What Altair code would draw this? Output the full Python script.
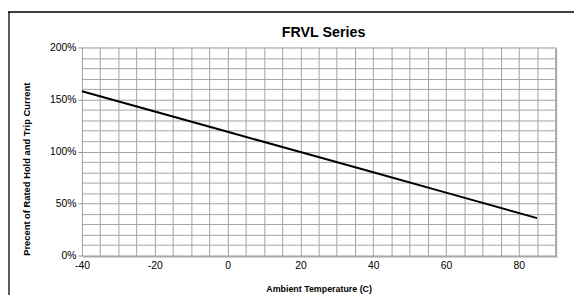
import altair as alt
import pandas as pd

# Data
temps = [-40, -20, 0, 20, 40, 60, 85]
percent = [158, 138.5, 119, 99.5, 80, 60.5, 36]

x_grid = list(range(-40, 91, 5))
y_grid = list(range(0, 201, 10))

FONT = "Liberation Sans"
GRID = "#a3a3a3"

df = pd.DataFrame({"temp": temps, "pct": percent})

x_enc = alt.X(
    "temp:Q",
    scale=alt.Scale(domain=[-40, 90], nice=False, zero=False),
    axis=alt.Axis(
        values=x_grid,
        labelExpr="(datum.value % 20 === 0 && datum.value <= 80) ? ('' + datum.value) : ''",
        labelOverlap=False,
        labelFlush=False,
        labelFont=FONT,
        labelFontSize=10.5,
        labelColor="black",
        labelPadding=5,
        ticks=False,
        domain=False,
        grid=True,
        gridColor=GRID,
        gridWidth=1,
        title="Ambient Temperature (C)",
        titleFont=FONT,
        titleFontSize=9,
        titleFontWeight="bold",
        titleColor="black",
        titlePadding=14,
    ),
)

y_enc = alt.Y(
    "pct:Q",
    scale=alt.Scale(domain=[0, 200], nice=False, zero=True),
    axis=alt.Axis(
        values=y_grid,
        labelExpr="(datum.value % 50 === 0) ? (datum.value + '%') : ''",
        labelOverlap=False,
        labelFlush=False,
        labelFont=FONT,
        labelFontSize=10.5,
        labelColor="black",
        labelPadding=2,
        tickSize=4,
        tickColor={"condition": {"test": "datum.value % 50 === 0", "value": "#8c8c8c"}, "value": "transparent"},
        domain=False,
        grid=True,
        gridColor=GRID,
        gridWidth=1,
        title="Precent of Rated Hold and Trip Current",
        titleFont=FONT,
        titleFontSize=9.5,
        titleFontWeight="bold",
        titleColor="black",
        titleX=-51,
        titleY=123,
        titleAlign="center",
    ),
)

line = alt.Chart(df).mark_line(color="black", strokeWidth=2).encode(x=x_enc, y=y_enc)

frame = pd.DataFrame({"k": [0]})
top_rule = alt.Chart(frame).mark_rule(color="black", strokeWidth=1.3).encode(
    x=alt.value(-75), x2=alt.value(500), y=alt.value(-36)
)
left_rule = alt.Chart(frame).mark_rule(color="black", strokeWidth=1.3).encode(
    x=alt.value(-74), y=alt.value(-36), y2=alt.value(260)
)
# plot-area shadow on right and bottom edges
right_shadow = alt.Chart(frame).mark_rule(color="#a8a8a8", strokeWidth=1.5).encode(
    x=alt.value(481.2), y=alt.value(1), y2=alt.value(212.5)
)
bottom_shadow = alt.Chart(frame).mark_rule(color="#a8a8a8", strokeWidth=1.5).encode(
    x=alt.value(1), x2=alt.value(482), y=alt.value(212.2)
)

chart = (
    alt.layer(line, right_shadow, bottom_shadow, top_rule, left_rule)
    .properties(
        width=480,
        height=211,
        autosize=alt.AutoSizeParams(type="none"),
        padding={"left": 75, "top": 38, "right": 19, "bottom": 40},
        title=alt.TitleParams(
            "FRVL Series",
            font=FONT,
            fontSize=14.5,
            fontWeight="bold",
            color="black",
            offset=-29.5,
            dx=5,
        ),
    )
    .configure_view(stroke="#8c8c8c", strokeWidth=1)
    .configure(background="white")
)

chart.save("out.html", embed_options={"renderer": "svg", "actions": False})
